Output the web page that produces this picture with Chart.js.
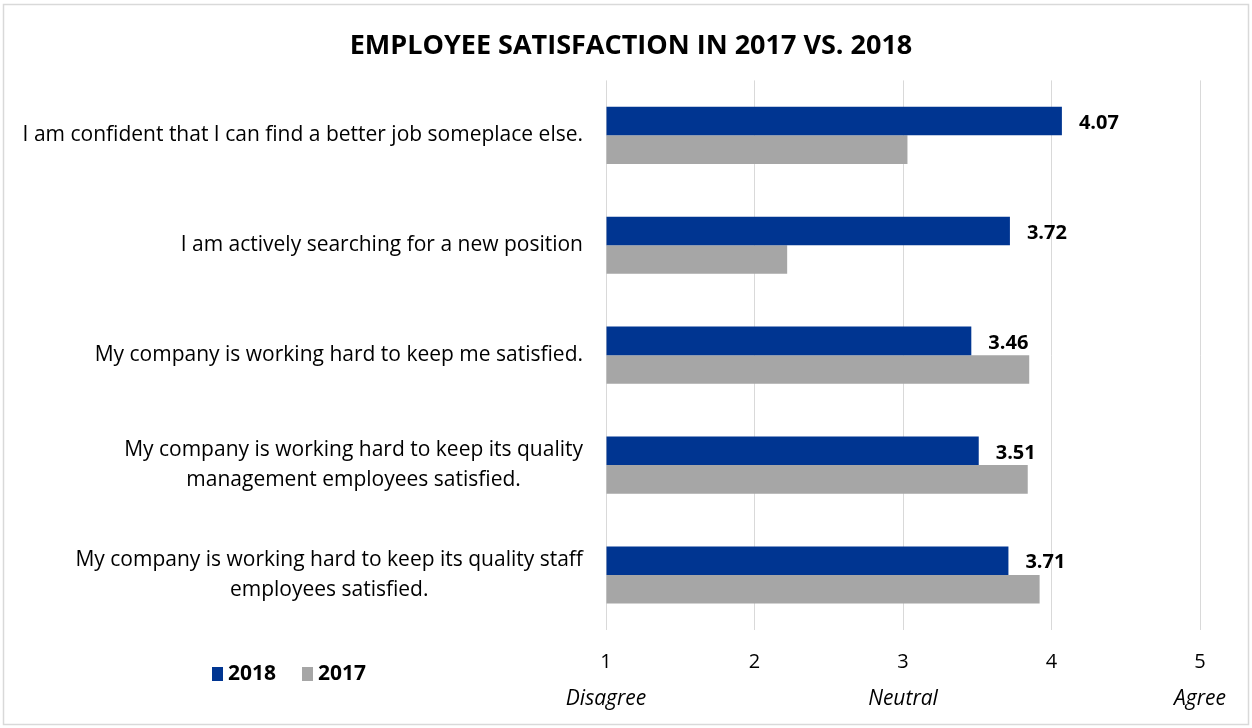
<!DOCTYPE html>
<html>
<head>
<meta charset="utf-8">
<script src="https://cdn.jsdelivr.net/npm/chart.js@4/dist/chart.umd.min.js"></script>
<style>
  html, body { margin: 0; padding: 0; background: #fff; }
  #wrap { width: 1252px; height: 728px; position: relative; }
</style>
</head>
<body>
<div id="wrap"><canvas id="chart" width="1252" height="728"></canvas></div>
<script>
// Survey statements (multi-line where the statement wraps)
const statements = [
  ['I am confident that I can find a better job someplace else.'],
  ['I am actively searching for a new position'],
  ['My company is working hard to keep me satisfied.'],
  ['My company is working hard to keep its quality', 'management employees satisfied.'],
  ['My company is working hard to keep its quality staff', 'employees satisfied.']
];
// Mean agreement scores (1 = Disagree, 5 = Agree)
const scores2018 = [4.07, 3.72, 3.46, 3.51, 3.71];
const scores2017 = [3.03, 2.22, 3.85, 3.84, 3.92];
// Scale anchors shown under the numeric ticks
const scaleTicks = [1, 2, 3, 4, 5];
const anchorLabels = { 1: 'Disagree', 3: 'Neutral', 5: 'Agree' };

const FONT = '"Open Sans", Lato, sans-serif';
const BLUE = '#003591';
const GRAY = '#a6a6a6';

// White background and light frame around the whole figure
const framePlugin = {
  id: 'frame',
  beforeDraw(chart) {
    const ctx = chart.ctx;
    ctx.save();
    ctx.fillStyle = '#fff';
    ctx.fillRect(0, 0, chart.width, chart.height);
    ctx.strokeStyle = '#d9d9d9';
    ctx.lineWidth = 1.5;
    ctx.strokeRect(3.5, 4.5, chart.width - 7, chart.height - 8);
    ctx.restore();
  }
};

// Statement labels: right-aligned block, lines centred inside the block
const statementLabels = {
  id: 'statementLabels',
  afterDraw(chart) {
    const ctx = chart.ctx;
    const y = chart.scales.y;
    const right = chart.chartArea.left - 23;
    const lineH = 30;
    ctx.save();
    ctx.font = '21px ' + FONT;
    ctx.fillStyle = '#000';
    ctx.textAlign = 'center';
    ctx.textBaseline = 'middle';
    chart.data.labels.forEach((lines, i) => {
      const cy = y.getPixelForValue(i);
      const w = Math.max(...lines.map(l => ctx.measureText(l).width));
      const cx = right - w / 2;
      lines.forEach((l, j) => {
        ctx.fillText(l, cx, cy + (j - (lines.length - 1) / 2) * lineH);
      });
    });
    ctx.restore();
  }
};

// Value labels at the end of the 2018 bars
const valueLabels = {
  id: 'valueLabels',
  afterDatasetsDraw(chart) {
    const ctx = chart.ctx;
    const meta = chart.getDatasetMeta(0);
    const data = chart.data.datasets[0].data;
    ctx.save();
    ctx.font = 'bold 20px ' + FONT;
    ctx.fillStyle = '#000';
    ctx.textAlign = 'left';
    ctx.textBaseline = 'middle';
    meta.data.forEach((bar, i) => {
      ctx.fillText(data[i].toFixed(2), bar.x + 17, bar.y + 2);
    });
    ctx.restore();
  }
};

// Legend in the lower-left corner
const legendBlock = {
  id: 'legendBlock',
  afterDraw(chart) {
    const ctx = chart.ctx;
    ctx.save();
    ctx.font = 'bold 21px ' + FONT;
    ctx.textBaseline = 'middle';
    ctx.textAlign = 'left';
    let x = 212;
    const cy = 674;
    chart.data.datasets.forEach(ds => {
      ctx.fillStyle = ds.backgroundColor;
      ctx.fillRect(x, cy - 7, 11, 14);
      ctx.fillStyle = '#000';
      ctx.fillText(ds.label, x + 16, cy);
      x += 90;
    });
    ctx.restore();
  }
};

new Chart(document.getElementById('chart'), {
  type: 'bar',
  data: {
    labels: statements,
    datasets: [
      { label: '2018', data: scores2018, backgroundColor: BLUE, base: 1 },
      { label: '2017', data: scores2017, backgroundColor: GRAY, base: 1 }
    ]
  },
  plugins: [framePlugin, statementLabels, valueLabels, legendBlock],
  options: {
    indexAxis: 'y',
    responsive: false,
    animation: false,
    layout: { padding: { left: 62, right: 52, top: 0, bottom: 12 } },
    datasets: { bar: { barPercentage: 1, categoryPercentage: 0.52 } },
    plugins: {
      legend: { display: false },
      tooltip: { enabled: false },
      title: {
        display: true,
        text: 'EMPLOYEE SATISFACTION IN 2017 VS. 2018',
        color: '#000',
        font: { family: FONT, size: 27, weight: 'bold' },
        padding: { top: 30, bottom: 18 }
      }
    },
    scales: {
      y: {
        afterFit(s) { s.width = 544; },
        ticks: { display: false },
        grid: { display: false },
        border: { display: false }
      },
      x: {
        min: 1, max: 5,
        weight: 0,
        afterFit(s) { s.height = 50; },
        afterBuildTicks(s) { s.ticks = scaleTicks.map(v => ({ value: v })); },
        grid: { color: '#d9d9d9', lineWidth: 1, drawTicks: false },
        border: { display: false },
        ticks: { color: '#000', padding: 20, font: { family: FONT, size: 20 } }
      },
      x2: {
        type: 'linear',
        position: 'bottom',
        min: 1, max: 5,
        weight: 1,
        afterFit(s) { s.height = 36; },
        afterBuildTicks(s) { s.ticks = scaleTicks.map(v => ({ value: v })); },
        grid: { display: false, drawTicks: false },
        border: { display: false },
        ticks: {
          color: '#000', padding: 6,
          font: { family: FONT, size: 21, style: 'italic' },
          callback: v => anchorLabels[v] || ''
        }
      }
    }
  }
});
</script>
</body>
</html>
